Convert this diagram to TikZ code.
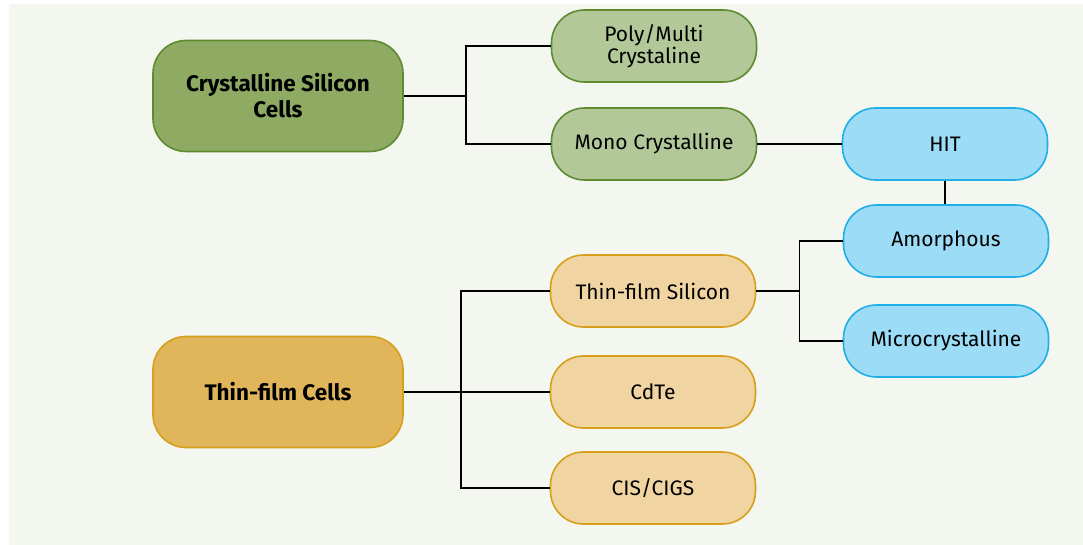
\documentclass[tikz,border=0pt]{standalone}
\usepackage{fontspec}
\setmainfont{Fira Sans}
\usepackage{xcolor}
\usepackage{tikz}
\usetikzlibrary{positioning}
\definecolor{panelbg}{HTML}{F4F6F0}
\definecolor{crysfill}{HTML}{8FAB63}
\definecolor{crysline}{HTML}{5D8B2E}
\definecolor{subcfill}{HTML}{B3C899}
\definecolor{hitfill}{HTML}{9DDCF6}
\definecolor{hitline}{HTML}{1FAEE8}
\definecolor{thinfill}{HTML}{E1B559}
\definecolor{thinline}{HTML}{D6A01C}
\definecolor{subtfill}{HTML}{F0D5A3}
\tikzset{
	base node/.style={rounded corners=33pt,draw,line width=1.6pt,align=center,
		font=\fontsize{21}{22}\selectfont,inner sep=0pt},
	main node/.style={base node,minimum width=250pt,minimum height=111pt,
		font=\fontsize{22.5}{26}\selectfont\bfseries},
	leaf node/.style={base node,minimum width=205pt,minimum height=72pt},
	link/.style={draw=black,line width=1.5pt}
}
\begin{document}
\begin{tikzpicture}[x=1pt,y=-1pt]
	\useasboundingbox (0,0) rectangle (1083,545);
	\fill[white] (0,0) rectangle (1083,545);
	\fill[panelbg] (9,4) rectangle (1083,545);
	\node [main node,fill=crysfill,draw=crysline] (crys) at (278,96) {Crystalline Silicon\\Cells};
	\node [main node,fill=thinfill,draw=thinline] (thin) at (278,392) {Thin-film Cells};
	\node [leaf node,fill=subcfill,draw=crysline,font=\fontsize{21}{22}\selectfont] (poly) at (654,46) {Poly/Multi\\Crystaline};
	\node [leaf node,fill=subcfill,draw=crysline] (mono) at (654,144) {Mono Crystalline};
	\node [leaf node,fill=subtfill,draw=thinline] (tfsi) at (653,291) {Thin-film Silicon};
	\node [leaf node,fill=subtfill,draw=thinline] (cdte) at (653,392) {CdTe};
	\node [leaf node,fill=subtfill,draw=thinline] (cigs) at (653,488) {CIS/CIGS};
	\node [leaf node,fill=hitfill,draw=hitline] (hit) at (945,144) {HIT};
	\node [leaf node,fill=hitfill,draw=hitline] (amor) at (946,241) {Amorphous};
	\node [leaf node,fill=hitfill,draw=hitline] (micro) at (946,341) {Microcrystalline};
	\path [link] (crys.east) -- ++(62,0) coordinate (cj);
	\draw [link] (cj) |- (poly.west);
	\draw [link] (cj) |- (mono.west);
	\path [link] (thin.east) -- ++(57,0) coordinate (tj);
	\draw [link] (tj) |- (tfsi.west);
	\draw [link] (tj) |- (cigs.west);
	\draw [link] (tj) -- (cdte.west);
	\path [link] (tfsi.east) -- ++(43,0) coordinate (sj);
	\draw [link] (sj) |- (amor.west);
	\draw [link] (sj) |- (micro.west);
	\draw [link] (mono.east) -- (hit.west);
	\draw [link] (hit.south) -- (amor.north -| hit.south);
\end{tikzpicture}
\end{document}
